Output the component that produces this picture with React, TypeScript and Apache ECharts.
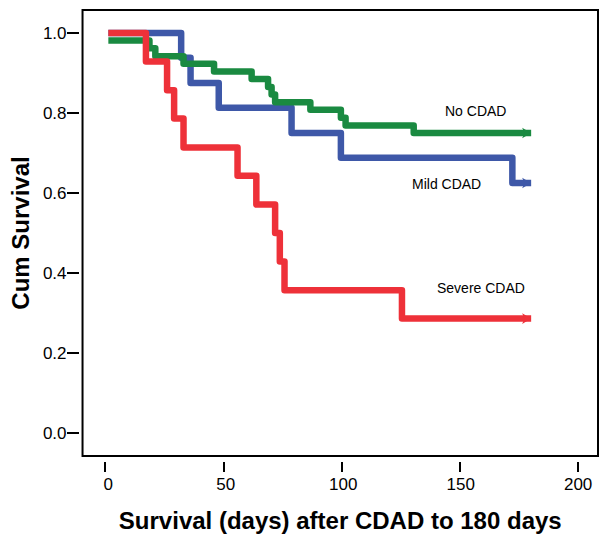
import React, { useEffect, useRef } from "react";
import * as echarts from "echarts";

// Kaplan-Meier curves
const severeDays = [0, 16, 25, 28, 32, 55, 63, 71, 73, 75, 125, 180];
const severeSurv = [1, 0.929, 0.857, 0.786, 0.714, 0.643, 0.571, 0.5, 0.429, 0.357, 0.286, 0.286];

const mildDays = [0, 31, 35, 47, 78, 99, 172, 180];
const mildSurv = [1, 0.938, 0.875, 0.813, 0.75, 0.688, 0.625, 0.625];

const noDays = [0, 17.5, 20, 32, 45, 61, 68, 69.5, 71, 86, 99, 101, 130, 180];
const noSurv = [0.981, 0.962, 0.942, 0.923, 0.904, 0.885, 0.865, 0.846, 0.827, 0.808, 0.788, 0.769, 0.75, 0.75];

const xTicks = [0, 50, 100, 150, 200];
const yTicks = [0, 0.2, 0.4, 0.6, 0.8, 1.0];

const seriesNames = ["Mild CDAD", "No CDAD", "Severe CDAD"];
const seriesColors = ["#3E58A8", "#1A8A41", "#EE3139"];

const FONT = "'Liberation Sans', Arial, sans-serif";

function buildData(days: number[], surv: number[]) {
  const last = days.length - 1;
  return days.map((d, i) =>
    i === last
      ? { value: [d, surv[i]], symbol: "arrow", symbolSize: [8, 9], symbolRotate: -90 }
      : [d, surv[i]]
  );
}

const hiddenAxis = {
  type: "value",
  axisLine: { show: false, onZero: false },
  axisTick: { show: false },
  axisLabel: { show: false },
  splitLine: { show: false },
};

export default function App() {
  const ref = useRef<HTMLDivElement>(null);
  useEffect(() => {
    document.body.style.margin = "0";
    const chart = echarts.init(ref.current!, null, { renderer: "svg" });
    const curves = [
      buildData(mildDays, mildSurv),
      buildData(noDays, noSurv),
      buildData(severeDays, severeSurv),
    ];
    chart.setOption({
      animation: false,
      textStyle: { fontFamily: FONT },
      grid: [
        {
          // plot frame
          left: 79,
          top: 10,
          width: 519,
          height: 446,
          show: true,
          borderColor: "#000",
          borderWidth: 2,
          backgroundColor: "transparent",
        },
        {
          // wider area that holds the outward tick marks
          left: 60,
          top: 10,
          width: 538,
          height: 470,
          show: false,
        },
      ],
      xAxis: [
        {
          type: "value",
          gridIndex: 0,
          min: -10.99,
          max: 208.46,
          offset: 6,
          axisLine: { show: false, onZero: false },
          axisTick: { show: false },
          axisLabel: {
            customValues: xTicks,
            margin: 14,
            fontSize: 17,
            color: "#000",
            fontFamily: FONT,
          },
          splitLine: { show: false },
          name: "Survival (days) after CDAD to 180 days",
          nameLocation: "middle",
          nameGap: 46,
          nameTextStyle: { fontSize: 24, fontWeight: "bold", color: "#000", fontFamily: FONT },
        },
        {
          // x tick marks, placed 6px below the frame
          type: "value",
          gridIndex: 1,
          min: -19.03,
          max: 208.46,
          axisLine: { show: false, onZero: true, onZeroAxisIndex: 2 },
          axisTick: {
            show: true,
            length: 10,
            customValues: xTicks,
            lineStyle: { color: "#000", width: 2 },
          },
          axisLabel: { show: false },
          splitLine: { show: false },
        },
        { ...hiddenAxis, gridIndex: 1, min: -19, max: 519 },
      ],
      yAxis: [
        {
          type: "value",
          gridIndex: 0,
          min: -0.0575,
          max: 1.0575,
          axisLine: { show: false, onZero: false },
          axisTick: { show: false },
          axisLabel: {
            customValues: yTicks,
            margin: 16,
            fontSize: 17,
            color: "#000",
            fontFamily: FONT,
            formatter: (v: number) => v.toFixed(1),
          },
          splitLine: { show: false },
          name: "Cum Survival",
          nameLocation: "middle",
          nameRotate: 90,
          nameGap: 46,
          nameTextStyle: { fontSize: 24, fontWeight: "bold", color: "#000", fontFamily: FONT },
        },
        {
          // y tick marks on the left frame line
          type: "value",
          gridIndex: 1,
          min: -0.1175,
          max: 1.0575,
          axisLine: { show: false, onZero: true, onZeroAxisIndex: 2 },
          axisTick: {
            show: true,
            length: 12,
            customValues: yTicks,
            lineStyle: { color: "#000", width: 2 },
          },
          axisLabel: { show: false },
          splitLine: { show: false },
        },
        { ...hiddenAxis, gridIndex: 1, min: -18, max: 452 },
      ],
      series: curves.map((data, i) => ({
        name: seriesNames[i],
        type: "line",
        step: "end",
        data,
        xAxisIndex: 0,
        yAxisIndex: 0,
        symbol: "none",
        showSymbol: true,
        itemStyle: { color: seriesColors[i] },
        lineStyle: { color: seriesColors[i], width: 6.5, join: "round", cap: "butt" },
        z: 2 + i,
      })),
      graphic: [
        { type: "text", x: 445, y: 111, style: { text: "No CDAD", font: `14px ${FONT}`, fill: "#000", verticalAlign: "middle" } },
        { type: "text", x: 412, y: 184, style: { text: "Mild CDAD", font: `14px ${FONT}`, fill: "#000", verticalAlign: "middle" } },
        { type: "text", x: 437, y: 288, style: { text: "Severe CDAD", font: `14px ${FONT}`, fill: "#000", verticalAlign: "middle" } },
      ],
    });
    return () => chart.dispose();
  }, []);
  return <div ref={ref} style={{ width: 610, height: 540 }} />;
}
